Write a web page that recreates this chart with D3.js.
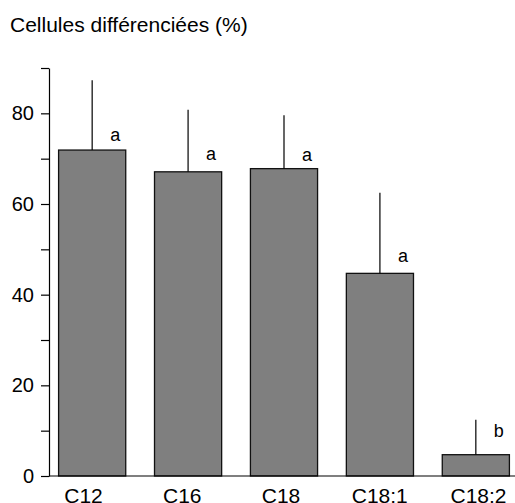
<!DOCTYPE html>
<html>
<head>
<meta charset="utf-8">
<script src="https://cdn.jsdelivr.net/npm/d3@7"></script>
<style>
  body { margin: 0; background: #fff; }
  svg { display: block; font-family: "Liberation Sans", Arial, sans-serif; }
</style>
</head>
<body>
<svg id="canvas" width="515" height="503"></svg>
<script>
const categories = ["C12", "C16", "C18", "C18:1", "C18:2"];
const values = [71.9, 67.1, 67.8, 44.7, 4.7];
const errorTops = [87.3, 80.8, 79.6, 62.5, 12.4];
const letters = ["a", "a", "a", "a", "b"];
const letterLevels = [73.9, 69.6, 69.5, 47.1, 8.6];
const yTicks = [0, 10, 20, 30, 40, 50, 60, 70, 80, 90];

const svg = d3.select("#canvas");
const plotLeft = 49;
const plotRight = 519;
const plotBottom = 476;
const plotTop = 68;

const x = d3.scaleBand()
    .domain(categories)
    .range([plotLeft, plotRight])
    .paddingInner(0.3)
    .paddingOuter(0.1);

// category labels sit on their own, slightly wider spacing
const xLabel = d3.scalePoint()
    .domain(categories)
    .range([83, 478]);

const y = d3.scaleLinear()
    .domain([0, 90])
    .range([plotBottom, plotTop]);

// title
svg.append("text")
    .attr("x", 10)
    .attr("y", 32)
    .attr("font-size", 21)
    .text("Cellules différenciées (%)");

// bars
svg.append("g")
    .selectAll("rect")
    .data(categories)
    .join("rect")
    .attr("x", d => x(d))
    .attr("y", (d, i) => y(values[i]))
    .attr("width", x.bandwidth())
    .attr("height", (d, i) => y(0) - y(values[i]))
    .attr("fill", "#7f7f7f")
    .attr("stroke", "#111")
    .attr("stroke-width", 1.3);

// upper error bars
svg.append("g")
    .attr("stroke", "#000")
    .attr("stroke-width", 1.2)
    .selectAll("line")
    .data(categories)
    .join("line")
    .attr("x1", d => x(d) + x.bandwidth() / 2)
    .attr("x2", d => x(d) + x.bandwidth() / 2)
    .attr("y1", (d, i) => y(values[i]))
    .attr("y2", (d, i) => y(errorTops[i]));

// significance letters
svg.append("g")
    .selectAll("text")
    .data(categories)
    .join("text")
    .attr("x", d => x(d) + x.bandwidth() / 2 + 23)
    .attr("y", (d, i) => y(letterLevels[i]))
    .attr("text-anchor", "middle")
    .attr("font-size", 18)
    .text((d, i) => letters[i]);

// y axis
const yAxis = svg.append("g")
    .attr("transform", `translate(${plotLeft},0)`)
    .call(d3.axisLeft(y)
        .tickValues(yTicks)
        .tickSize(8)
        .tickSizeOuter(0)
        .tickPadding(7)
        .tickFormat(d => d % 20 === 0 ? d : ""));
yAxis.selectAll("text").attr("font-size", 20).attr("fill", "#000");
yAxis.selectAll("line, path").attr("stroke", "#000").attr("stroke-width", 1.2);

// x axis baseline
svg.append("line")
    .attr("x1", plotLeft)
    .attr("x2", plotRight)
    .attr("y1", y(0))
    .attr("y2", y(0))
    .attr("stroke", "#000")
    .attr("stroke-width", 1.2);

// x axis labels
const xAxis = svg.append("g")
    .attr("transform", `translate(0,${plotBottom})`)
    .call(d3.axisBottom(xLabel).tickSize(0).tickPadding(12));
xAxis.select(".domain").remove();
xAxis.selectAll("text").attr("font-size", 21).attr("fill", "#000");
</script>
</body>
</html>
